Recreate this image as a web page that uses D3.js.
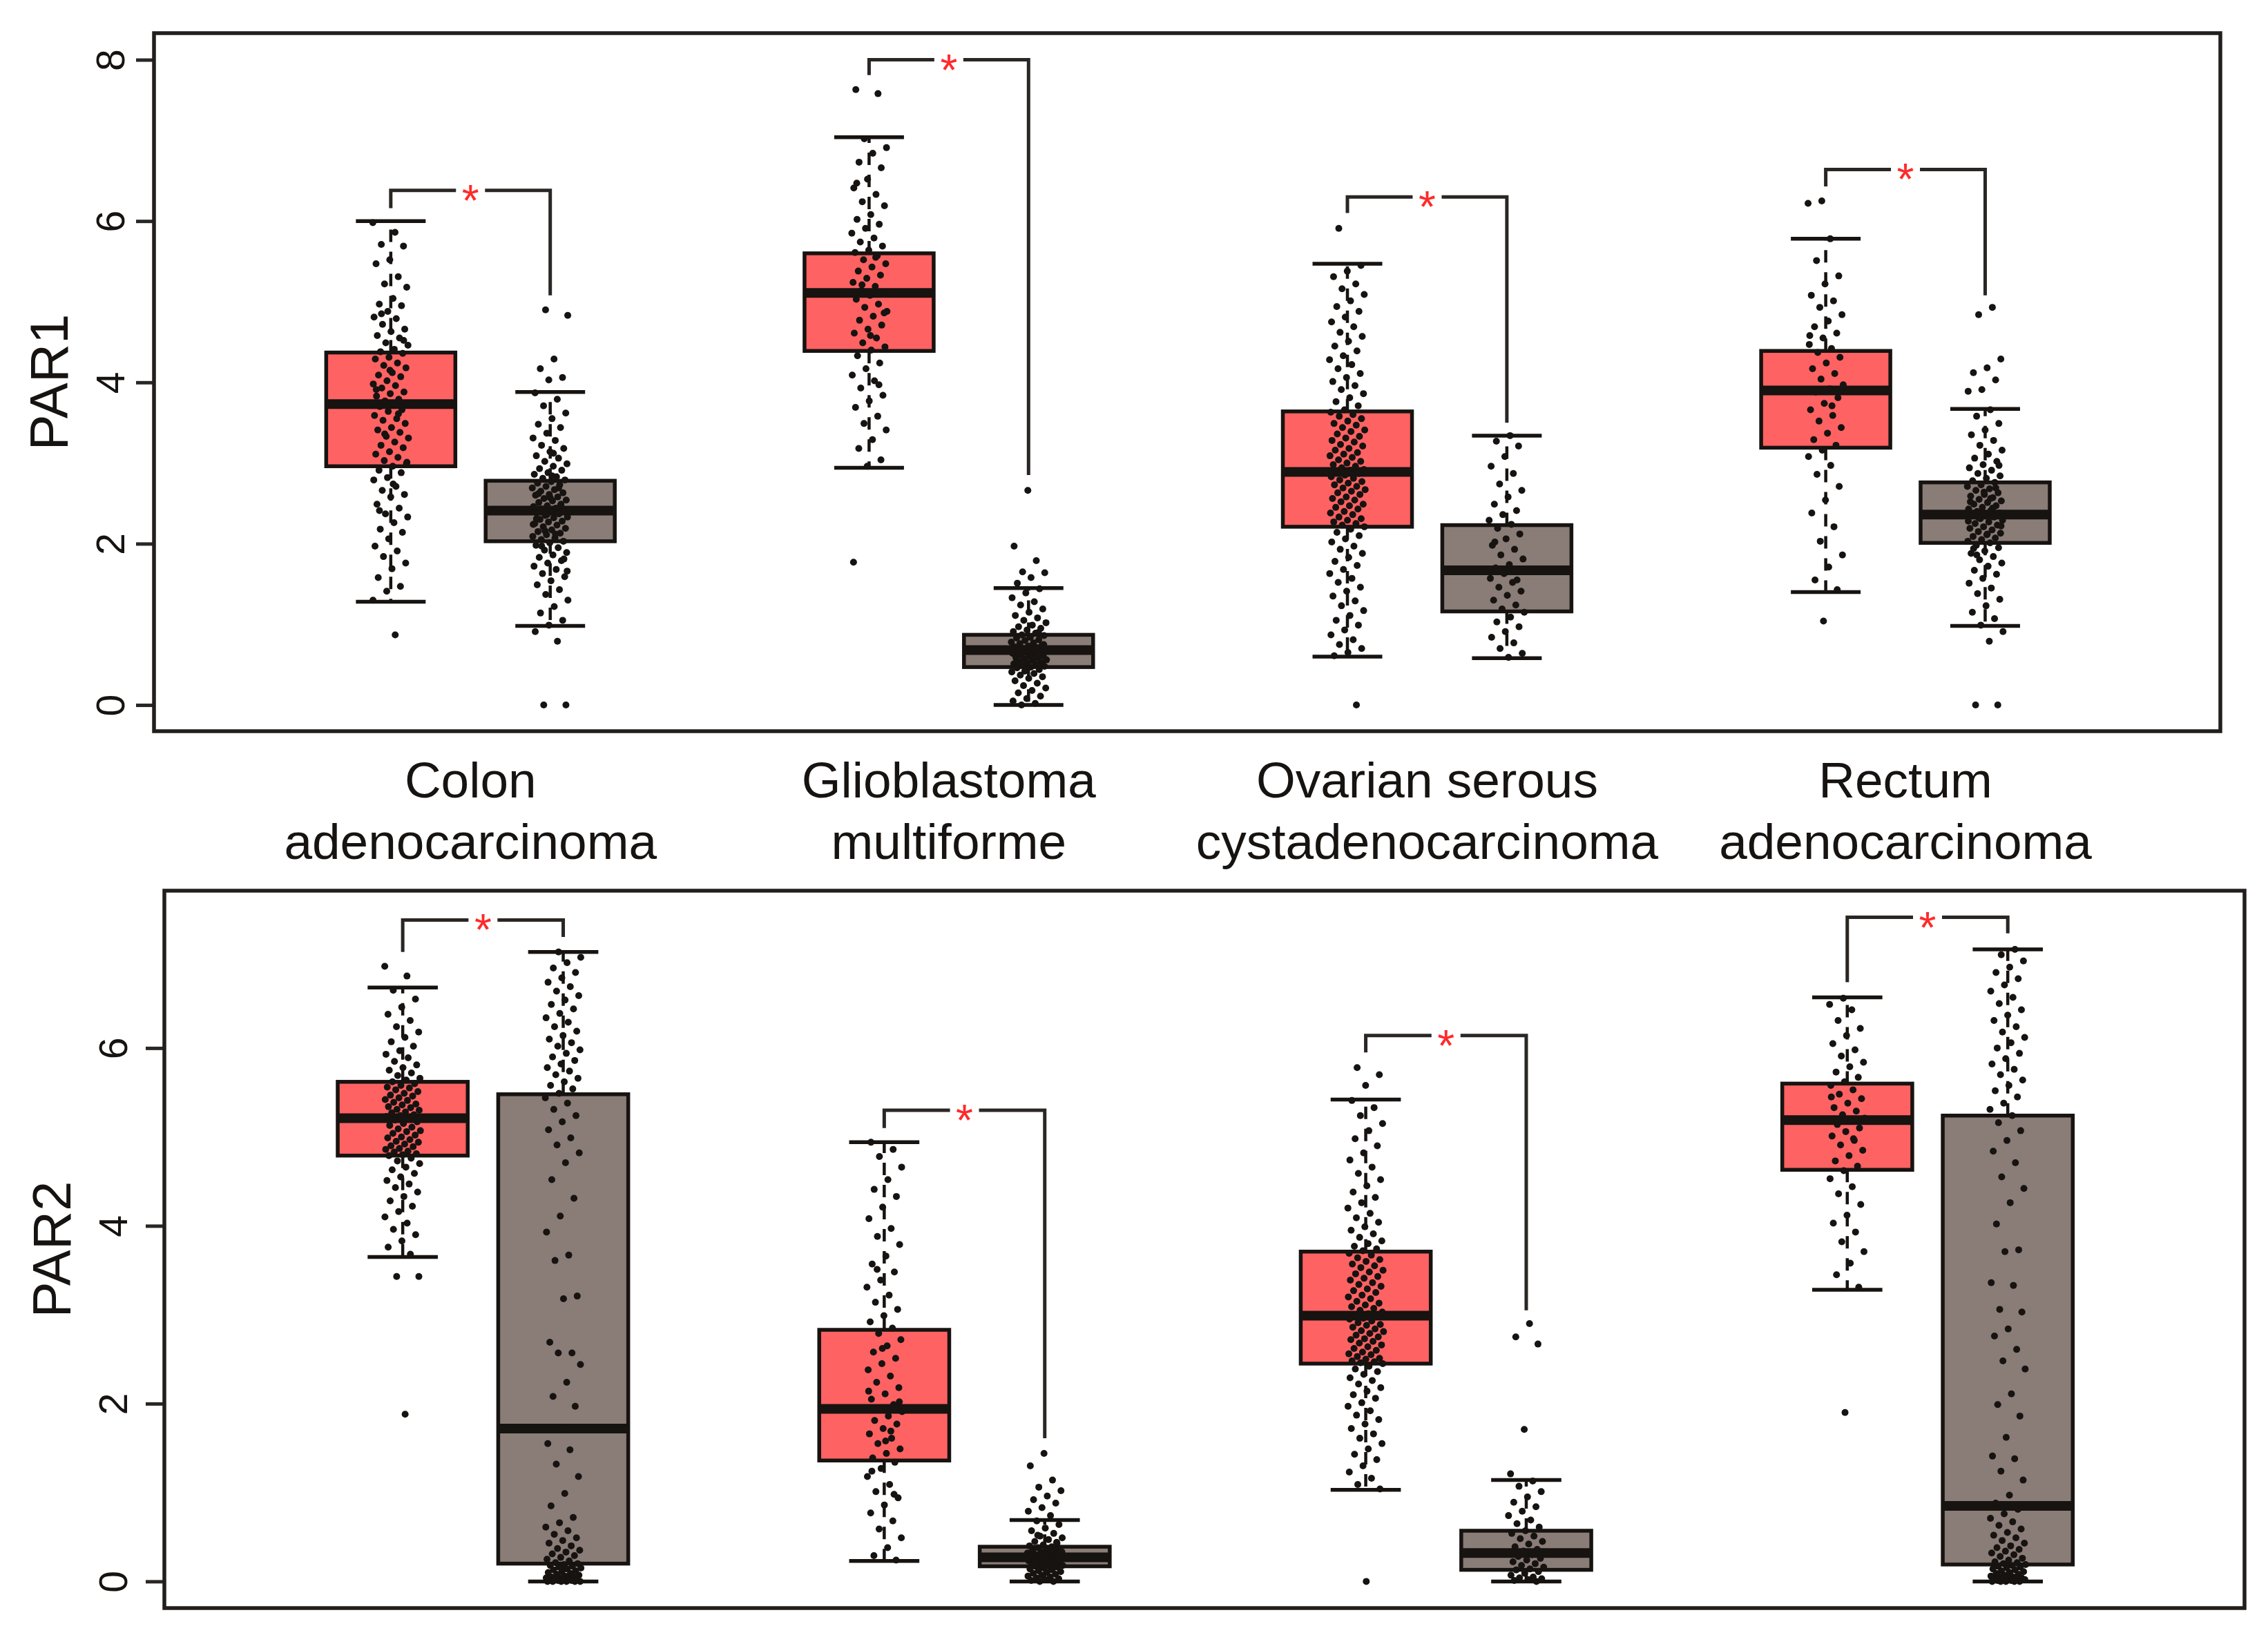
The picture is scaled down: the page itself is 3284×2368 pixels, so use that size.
<!DOCTYPE html>
<html>
<head>
<meta charset="utf-8">
<script src="https://cdn.jsdelivr.net/npm/d3@7"></script>
<style>
  body { margin: 0; background: #fff; }
  svg { display: block; }
</style>
</head>
<body>
<script>
// ---- data ----
const cancers = [
  ["Colon", "adenocarcinoma"],
  ["Glioblastoma", "multiforme"],
  ["Ovarian serous", "cystadenocarcinoma"],
  ["Rectum", "adenocarcinoma"]
];
const par1Ticks = [0, 2, 4, 6, 8];
const par2Ticks = [0, 2, 4, 6];

// box stats per cancer: [lower whisker, q1, median, q3, upper whisker]
const par1Tumor = [[1.28, 2.96, 3.73, 4.37, 6.00], [2.94, 4.39, 5.11, 5.60, 7.04], [0.60, 2.21, 2.89, 3.64, 5.47], [1.40, 3.19, 3.90, 4.39, 5.78]];
const par1Normal = [[0.98, 2.03, 2.41, 2.78, 3.88], [0.00, 0.47, 0.68, 0.87, 1.45], [0.58, 1.16, 1.67, 2.23, 3.34], [0.98, 2.01, 2.36, 2.76, 3.67]];
const par2Tumor = [[3.65, 4.79, 5.21, 5.62, 6.68], [0.23, 1.36, 1.94, 2.83, 4.94], [1.03, 2.45, 2.99, 3.71, 5.42], [3.28, 4.63, 5.19, 5.60, 6.57]];
const par2Normal = [[0.00, 0.20, 1.72, 5.48, 7.08], [0.00, 0.17, 0.27, 0.39, 0.69], [0.00, 0.13, 0.32, 0.57, 1.14], [0.00, 0.19, 0.85, 5.24, 7.11]];

// significance brackets: [bar level, left leg end, right leg end]
const par1Brackets = [[6.38, 6.16, 5.08], [8.00, 7.81, 2.85], [6.30, 6.10, 3.50], [6.64, 6.43, 5.08]];
const par2Brackets = [[7.44, 7.08, 7.25], [5.30, 5.10, 1.61], [6.14, 5.95, 3.05], [7.47, 6.74, 7.29]];

// sample points (expression values)
const par1ColonT = [5.98, 5.86, 5.71, 5.69, 5.52, 5.47, 5.31, 5.22, 5.18, 5.04, 4.97, 4.95, 4.88, 4.81, 4.79, 4.72, 4.66, 4.63, 4.58, 4.55, 4.49, 4.46, 4.41, 4.38, 4.36, 4.31, 4.29, 4.24, 4.21, 4.18, 4.12, 4.09, 4.07, 4.02, 3.98, 3.96, 3.93, 3.88, 3.86, 3.83, 3.79, 3.77, 3.74, 3.72, 3.70, 3.66, 3.64, 3.59, 3.55, 3.53, 3.49, 3.44, 3.41, 3.38, 3.33, 3.31, 3.26, 3.22, 3.19, 3.14, 3.11, 3.07, 3.03, 2.99, 2.96, 2.91, 2.88, 2.82, 2.79, 2.71, 2.66, 2.61, 2.58, 2.49, 2.44, 2.37, 2.33, 2.26, 2.18, 2.14, 2.06, 1.97, 1.91, 1.84, 1.76, 1.69, 1.58, 1.47, 1.41, 1.30, 0.87, 4.85, 4.52, 4.15, 3.91, 3.61, 3.36, 3.01, 2.74, 2.41];
const par1ColonN = [4.90, 4.83, 4.29, 4.17, 4.06, 4.03, 3.87, 3.79, 3.71, 3.62, 3.55, 3.48, 3.44, 3.37, 3.31, 3.28, 3.22, 3.18, 3.14, 3.09, 3.06, 3.02, 2.99, 2.96, 2.93, 2.91, 2.88, 2.86, 2.83, 2.81, 2.79, 2.77, 2.75, 2.73, 2.71, 2.69, 2.67, 2.65, 2.63, 2.61, 2.60, 2.58, 2.56, 2.54, 2.53, 2.51, 2.49, 2.47, 2.46, 2.44, 2.43, 2.41, 2.40, 2.38, 2.37, 2.35, 2.33, 2.32, 2.30, 2.28, 2.27, 2.25, 2.23, 2.21, 2.19, 2.17, 2.15, 2.13, 2.11, 2.09, 2.07, 2.05, 2.03, 2.01, 1.98, 1.95, 1.92, 1.89, 1.86, 1.83, 1.79, 1.76, 1.72, 1.68, 1.63, 1.59, 1.54, 1.49, 1.43, 1.37, 1.30, 1.22, 1.14, 1.05, 0.99, 0.91, 0.79, 0.00, 0.00, 2.84, 2.62, 2.48, 2.36, 2.24, 2.12, 1.97, 1.81, 2.57, 2.31, 2.69, 2.16, 1.66, 3.12];
const par1GbmT = [7.63, 7.58, 7.02, 6.91, 6.84, 6.73, 6.66, 6.52, 6.41, 6.33, 6.24, 6.19, 6.08, 6.02, 5.96, 5.91, 5.85, 5.79, 5.74, 5.69, 5.64, 5.61, 5.57, 5.52, 5.47, 5.43, 5.38, 5.33, 5.29, 5.24, 5.19, 5.14, 5.12, 5.08, 5.03, 4.97, 4.93, 4.88, 4.82, 4.77, 4.71, 4.66, 4.61, 4.55, 4.49, 4.44, 4.40, 4.33, 4.24, 4.17, 4.09, 4.02, 3.93, 3.84, 3.77, 3.69, 3.58, 3.49, 3.41, 3.29, 3.18, 3.04, 2.96, 1.77, 5.55, 5.21, 4.86, 4.58, 6.47, 3.97];
const par1GbmN = [2.66, 1.97, 1.79, 1.65, 1.64, 1.58, 1.51, 1.44, 1.39, 1.33, 1.28, 1.24, 1.19, 1.15, 1.11, 1.08, 1.05, 1.02, 0.99, 0.97, 0.95, 0.93, 0.91, 0.89, 0.87, 0.86, 0.84, 0.83, 0.81, 0.80, 0.78, 0.77, 0.76, 0.74, 0.73, 0.72, 0.71, 0.70, 0.69, 0.68, 0.67, 0.66, 0.65, 0.64, 0.63, 0.62, 0.61, 0.60, 0.59, 0.58, 0.57, 0.56, 0.55, 0.54, 0.53, 0.52, 0.51, 0.50, 0.49, 0.48, 0.47, 0.46, 0.44, 0.43, 0.41, 0.39, 0.37, 0.35, 0.33, 0.30, 0.27, 0.24, 0.21, 0.18, 0.15, 0.11, 0.08, 0.05, 0.02, 0.00, 0.75, 0.62, 0.53, 0.90, 0.42];
const par1OvT = [5.91, 5.45, 5.38, 5.31, 5.22, 5.16, 5.09, 5.01, 4.94, 4.88, 4.81, 4.75, 4.69, 4.62, 4.57, 4.51, 4.45, 4.39, 4.33, 4.28, 4.22, 4.17, 4.11, 4.06, 4.01, 3.96, 3.91, 3.86, 3.81, 3.76, 3.71, 3.66,
  3.63, 3.60, 3.58, 3.55, 3.52, 3.49, 3.47, 3.44, 3.41, 3.39, 3.36, 3.33, 3.31, 3.28, 3.26, 3.23, 3.21, 3.18, 3.16, 3.13, 3.11, 3.09, 3.07, 3.04, 3.02, 3.00, 2.98, 2.96, 2.94, 2.92, 2.91, 2.89,
  2.87, 2.85, 2.83, 2.81, 2.79, 2.77, 2.75, 2.73, 2.71, 2.69, 2.67, 2.65, 2.63, 2.61, 2.58, 2.56, 2.54, 2.52, 2.49, 2.47, 2.45, 2.43, 2.40, 2.38, 2.36, 2.33, 2.31, 2.29, 2.27, 2.25, 2.23, 2.21,
  2.18, 2.14, 2.10, 2.06, 2.02, 1.97, 1.93, 1.88, 1.83, 1.78, 1.73, 1.68, 1.63, 1.57, 1.52, 1.46, 1.41, 1.35, 1.29, 1.23, 1.17, 1.11, 1.05, 0.99, 0.93, 0.87, 0.81, 0.75, 0.70, 0.65, 0.61, 0.00];
const par1OvN = [3.34, 3.27, 3.21, 3.08, 2.96, 2.87, 2.74, 2.66, 2.58, 2.49, 2.41, 2.36, 2.29, 2.24, 2.19, 2.12, 2.06, 1.98, 1.93, 1.86, 1.81, 1.74, 1.70, 1.67, 1.63, 1.57, 1.52, 1.46, 1.41, 1.36, 1.30, 1.24, 1.19, 1.15, 1.09, 1.03, 0.97, 0.91, 0.84, 0.77, 0.70, 0.64, 0.59, 2.02, 1.55];
const par1RecT = [6.25, 6.22, 5.78, 5.51, 5.32, 5.22, 5.08, 5.01, 4.93, 4.84, 4.76, 4.69, 4.61, 4.55, 4.47, 4.42, 4.37, 4.31, 4.24, 4.17, 4.11, 4.04, 3.97, 3.92, 3.88, 3.81, 3.74, 3.66, 3.59, 3.52, 3.44, 3.37, 3.29, 3.22, 3.16, 3.08, 2.97, 2.86, 2.71, 2.54, 2.38, 2.21, 2.03, 1.86, 1.71, 1.55, 1.43, 1.04, 4.58, 3.71];
const par1RecN = [4.93, 4.84, 4.29, 4.18, 4.12, 4.03, 3.91, 3.89, 3.66, 3.58, 3.49, 3.41, 3.35, 3.28, 3.22, 3.16, 3.11, 3.06, 3.02, 2.98, 2.94, 2.91, 2.87, 2.84, 2.81, 2.78, 2.76, 2.73, 2.71, 2.68, 2.66, 2.63, 2.61, 2.59, 2.57, 2.55, 2.53, 2.51, 2.49, 2.47, 2.45, 2.43, 2.41, 2.40, 2.38, 2.36, 2.35, 2.33, 2.31, 2.29, 2.27, 2.25, 2.23, 2.21, 2.19, 2.17, 2.15, 2.13, 2.11, 2.09, 2.07, 2.05, 2.03, 2.01, 1.98, 1.95, 1.91, 1.88, 1.84, 1.80, 1.76, 1.72, 1.67, 1.62, 1.57, 1.51, 1.45, 1.38, 1.31, 1.23, 1.15, 1.07, 0.99, 0.91, 0.79, 0.00, 0.00, 2.64, 2.52, 2.44, 2.32, 2.22, 2.12, 1.94, 2.69, 2.37, 2.28, 2.56, 1.86, 2.97];

const par2ColonT = [6.92, 6.81, 6.65, 6.55, 6.46, 6.38, 6.31, 6.24, 6.18, 6.12, 6.07, 6.02, 5.97, 5.93, 5.89, 5.85, 5.81, 5.78, 5.75, 5.72, 5.69, 5.66, 5.64, 5.62,
  5.60, 5.58, 5.56, 5.55, 5.53, 5.51, 5.49, 5.47, 5.46, 5.44, 5.42, 5.41, 5.39, 5.37, 5.36, 5.34, 5.33, 5.31, 5.30, 5.28, 5.27, 5.25, 5.24, 5.23, 5.21,
  5.19, 5.17, 5.15, 5.13, 5.11, 5.09, 5.07, 5.06, 5.04, 5.02, 5.00, 4.99, 4.97, 4.95, 4.94, 4.92, 4.90, 4.89, 4.87, 4.86, 4.84, 4.83, 4.81, 4.80, 4.79,
  4.76, 4.73, 4.70, 4.66, 4.63, 4.59, 4.55, 4.51, 4.47, 4.43, 4.38, 4.33, 4.28, 4.22, 4.16, 4.10, 4.03, 3.96, 3.90, 3.83, 3.76, 3.68, 3.43, 3.43, 1.88];
const par2ColonN = [7.08, 7.02, 6.96, 6.90, 6.85, 6.79, 6.74, 6.69, 6.64, 6.59, 6.54, 6.49, 6.44, 6.39, 6.34, 6.29, 6.24, 6.19, 6.14, 6.10, 6.06, 6.02, 5.98, 5.94, 5.90, 5.86, 5.82, 5.78, 5.74, 5.70, 5.66, 5.62, 5.58, 5.54, 5.49, 5.44, 5.38, 5.31, 5.24, 5.17, 5.08, 4.99, 4.91, 4.82, 4.71,
  4.52, 4.31, 4.11, 3.93, 3.67, 3.61, 3.21, 3.18, 2.69, 2.57, 2.57, 2.44, 2.24, 2.08, 1.97, 1.72, 1.55, 1.48, 1.32, 1.18, 0.99, 0.85,
  0.72, 0.66, 0.61, 0.57, 0.53, 0.49, 0.46, 0.43, 0.40, 0.37, 0.35, 0.33, 0.31, 0.29, 0.27, 0.25, 0.23, 0.21, 0.20, 0.19, 0.18, 0.17, 0.16, 0.15, 0.14, 0.13, 0.12, 0.11, 0.10, 0.09, 0.08, 0.07, 0.06, 0.05, 0.05, 0.04, 0.04, 0.03, 0.03, 0.02, 0.02, 0.01, 0.01, 0.01, 0.00, 0.00, 0.00, 0.00, 0.00, 0.00];
const par2GbmT = [4.94, 4.86, 4.78, 4.66, 4.52, 4.41, 4.33, 4.21, 4.08, 3.97, 3.88, 3.79, 3.66, 3.57, 3.48, 3.39, 3.31, 3.22, 3.14, 3.06, 2.99, 2.92, 2.85, 2.79, 2.72, 2.65, 2.58, 2.51, 2.45, 2.38, 2.31, 2.24, 2.18, 2.11, 2.05, 1.99, 1.95, 1.91, 1.86, 1.81, 1.77, 1.72, 1.66, 1.61, 1.55, 1.49, 1.44, 1.39, 1.34, 1.27, 1.18, 1.09, 1.01, 0.94, 0.86, 0.77, 0.68, 0.59, 0.49, 0.38, 0.29, 0.24, 2.62, 2.14, 1.69, 3.51, 2.02, 1.58, 1.24, 0.98];
const par2GbmN = [1.44, 1.30, 1.14, 1.06, 1.02, 0.96, 0.92, 0.88, 0.83, 0.79, 0.74, 0.68, 0.64, 0.60, 0.57, 0.54, 0.51, 0.49, 0.47, 0.45, 0.43, 0.41, 0.40, 0.39, 0.38, 0.37, 0.36, 0.35, 0.34, 0.33, 0.32, 0.31, 0.30, 0.30, 0.29, 0.28, 0.28, 0.27, 0.27, 0.26, 0.25, 0.25, 0.24, 0.23, 0.23, 0.22, 0.21, 0.21, 0.20, 0.19, 0.19, 0.18, 0.17, 0.17, 0.16, 0.15, 0.14, 0.13, 0.12, 0.11, 0.10, 0.09, 0.08, 0.07, 0.06, 0.05, 0.04, 0.03, 0.02, 0.01, 0.00, 0.00, 0.33, 0.26, 0.22, 0.44, 0.18, 0.29, 0.36, 0.52];
const par2OvT = [5.78, 5.70, 5.58, 5.41, 5.33, 5.24, 5.15, 5.07, 4.98, 4.90, 4.82, 4.74, 4.66, 4.59, 4.52, 4.45, 4.38, 4.32, 4.26, 4.20, 4.14, 4.09, 4.04, 3.99, 3.95, 3.91, 3.87, 3.83, 3.80, 3.77, 3.74, 3.72,
  3.69, 3.67, 3.64, 3.62, 3.60, 3.57, 3.55, 3.53, 3.50, 3.48, 3.46, 3.43, 3.41, 3.39, 3.36, 3.34, 3.32, 3.29, 3.27, 3.25, 3.22, 3.20, 3.18, 3.15, 3.13, 3.11, 3.09, 3.07, 3.05, 3.03, 3.01, 3.00,
  2.98, 2.96, 2.95, 2.93, 2.91, 2.89, 2.88, 2.86, 2.84, 2.82, 2.81, 2.79, 2.77, 2.75, 2.73, 2.72, 2.70, 2.68, 2.66, 2.64, 2.62, 2.60, 2.58, 2.56, 2.55, 2.53, 2.51, 2.50, 2.48, 2.47, 2.46, 2.45,
  2.42, 2.39, 2.36, 2.33, 2.29, 2.26, 2.22, 2.18, 2.14, 2.10, 2.06, 2.01, 1.97, 1.92, 1.87, 1.82, 1.77, 1.72, 1.66, 1.61, 1.55, 1.49, 1.43, 1.37, 1.30, 1.23, 1.16, 1.09, 1.04, 0.00];
const par2OvN = [2.90, 2.75, 2.67, 1.71, 1.21, 1.13, 1.07, 1.01, 0.95, 0.89, 0.84, 0.79, 0.74, 0.69, 0.65, 0.61, 0.57, 0.54, 0.51, 0.48, 0.45, 0.42, 0.39, 0.36, 0.34, 0.32, 0.30, 0.28, 0.26, 0.24, 0.22, 0.20, 0.18, 0.16, 0.14, 0.13, 0.11, 0.09, 0.07, 0.05, 0.04, 0.03, 0.02, 0.01, 0.00];
const par2RecT = [6.56, 6.49, 6.43, 6.31, 6.22, 6.14, 6.05, 5.98, 5.91, 5.84, 5.79, 5.73, 5.67, 5.62, 5.58, 5.53, 5.48, 5.43, 5.38, 5.33, 5.29, 5.25, 5.21, 5.18, 5.14, 5.10, 5.06, 5.01, 4.96, 4.91, 4.85, 4.79, 4.73, 4.67, 4.62, 4.53, 4.44, 4.36, 4.24, 4.12, 4.03, 3.93, 3.82, 3.71, 3.58, 3.45, 3.31, 1.90, 5.45, 4.98];
const par2RecN = [7.11, 7.05, 6.98, 6.91, 6.85, 6.78, 6.71, 6.64, 6.57, 6.50, 6.43, 6.37, 6.31, 6.24, 6.18, 6.12, 6.06, 6.00, 5.94, 5.88, 5.82, 5.76, 5.70, 5.64, 5.58, 5.52, 5.45, 5.38, 5.31, 5.24, 5.16, 5.07, 4.96, 4.84, 4.71,
  4.55, 4.42, 4.26, 4.02, 3.73, 3.71, 3.36, 3.33, 3.06, 3.03, 2.84, 2.76, 2.61, 2.48, 2.39, 2.11, 1.99, 1.86, 1.62, 1.41, 1.38, 1.24, 1.14, 0.97, 0.88,
  0.81, 0.76, 0.71, 0.67, 0.63, 0.59, 0.55, 0.52, 0.49, 0.46, 0.43, 0.40, 0.38, 0.36, 0.34, 0.32, 0.30, 0.28, 0.26, 0.24, 0.22, 0.21, 0.20, 0.19, 0.18, 0.17, 0.16, 0.15, 0.14, 0.13, 0.12, 0.11, 0.10, 0.09, 0.08, 0.07, 0.06, 0.05, 0.05, 0.04, 0.04, 0.03, 0.03, 0.02, 0.02, 0.01, 0.01, 0.00, 0.00, 0.00, 0.00, 0.00];

const par1Points = [[par1ColonT, par1ColonN], [par1GbmT, par1GbmN], [par1OvT, par1OvN], [par1RecT, par1RecN]];
const par2Points = [[par2ColonT, par2ColonN], [par2GbmT, par2GbmN], [par2OvT, par2OvN], [par2RecT, par2RecN]];

// ---- layout / style ----
const W = 3284, H = 2368;
const tumorFill = "#ff6262", normalFill = "#8a7c76";
const ink = "#161311", starRed = "#ff2a2a";
const xDomain = [-0.485, 12.475];
const boxUnits = 0.81;

const svg = d3.select("body").append("svg")
  .attr("width", W).attr("height", H)
  .attr("viewBox", `0 0 ${W} ${H}`);
svg.append("rect").attr("width", W).attr("height", H).attr("fill", "#fff");

function drawPanel(cfg) {
  const g = svg.append("g");
  const x = d3.scaleLinear().domain(xDomain).range([cfg.left, cfg.right]);
  const y = d3.scaleLinear().domain(cfg.yDomain).range([cfg.bottom, cfg.top]);
  const bw = x(boxUnits) - x(0);
  const jitterPx = 26;

  // y axis
  const ax = g.append("g")
    .attr("transform", `translate(${cfg.left},0)`)
    .call(d3.axisLeft(y).tickValues(cfg.ticks).tickSize(cfg.tickLen).tickFormat(d3.format("d")));
  ax.select(".domain").remove();
  ax.selectAll(".tick line").attr("stroke", "#2a2624").attr("stroke-width", 5);
  ax.selectAll(".tick text")
    .attr("x", null).attr("dy", null)
    .attr("transform", `translate(${-cfg.labelOff},0) rotate(-90)`)
    .attr("text-anchor", "middle")
    .attr("fill", ink)
    .style("font-family", "'Liberation Sans', Arial, sans-serif")
    .style("font-size", "57px");

  g.append("text")
    .attr("transform", `translate(${cfg.titleX},${(cfg.top + cfg.bottom) / 2}) rotate(-90)`)
    .attr("text-anchor", "middle")
    .attr("fill", ink)
    .style("font-family", "'Liberation Sans', Arial, sans-serif")
    .style("font-size", "78px")
    .text(cfg.title);

  const drawBox = (pos, s, fill, pts, seed) => {
    const cx = x(pos);
    const [lo, q1, med, q3, hi] = s;
    const bg = g.append("g");
    bg.append("line").attr("x1", cx).attr("x2", cx).attr("y1", y(q3)).attr("y2", y(hi))
      .attr("stroke", ink).attr("stroke-width", 4.5).attr("stroke-dasharray", "18,14");
    bg.append("line").attr("x1", cx).attr("x2", cx).attr("y1", y(q1)).attr("y2", y(lo))
      .attr("stroke", ink).attr("stroke-width", 4.5).attr("stroke-dasharray", "18,14");
    [lo, hi].forEach(v => {
      bg.append("line").attr("x1", cx - bw * 0.27).attr("x2", cx + bw * 0.27)
        .attr("y1", y(v)).attr("y2", y(v))
        .attr("stroke", ink).attr("stroke-width", 5.5);
    });
    bg.append("rect")
      .attr("x", cx - bw / 2).attr("width", bw)
      .attr("y", y(q3)).attr("height", y(q1) - y(q3))
      .attr("fill", fill).attr("stroke", ink).attr("stroke-width", 5.5);
    bg.append("line").attr("x1", cx - bw / 2).attr("x2", cx + bw / 2)
      .attr("y1", y(med)).attr("y2", y(med))
      .attr("stroke", ink).attr("stroke-width", 14);
    bg.selectAll("circle").data(pts).join("circle")
      .attr("cx", (d, i) => cx + (((i * 0.6180339887 + seed) % 1) - 0.5) * 2 * jitterPx)
      .attr("cy", d => y(d))
      .attr("r", 5)
      .attr("fill", ink);
  };

  cancers.forEach((c, i) => {
    const tPos = 3 * i + 1, nPos = 3 * i + 2;
    drawBox(tPos, cfg.tumor[i], tumorFill, cfg.points[i][0], 0.13 * i);
    drawBox(nPos, cfg.normal[i], normalFill, cfg.points[i][1], 0.37 + 0.11 * i);

    const [bar, lEnd, rEnd] = cfg.brackets[i];
    const xl = x(tPos), xr = x(nPos), xm = (xl + xr) / 2, gap = 21;
    const by = y(bar);
    const bk = g.append("g").attr("fill", "none").attr("stroke", "#2a2624").attr("stroke-width", 5);
    bk.append("path").attr("d", `M${xl},${y(lEnd)}V${by}H${xm - gap}`);
    bk.append("path").attr("d", `M${xm + gap},${by}H${xr}V${y(rEnd)}`);
    g.append("text")
      .attr("x", xm).attr("y", by + 37)
      .attr("text-anchor", "middle")
      .attr("fill", starRed)
      .style("font-family", "'Liberation Sans', Arial, sans-serif")
      .style("font-size", "64px")
      .text("*");
  });

  // frame
  g.append("rect")
    .attr("x", cfg.left).attr("y", cfg.top)
    .attr("width", cfg.right - cfg.left).attr("height", cfg.bottom - cfg.top)
    .attr("fill", "none").attr("stroke", "#221e1c").attr("stroke-width", 5.5);

  return x;
}

const xTop = drawPanel({
  left: 223, right: 3215, top: 48, bottom: 1059,
  yDomain: [-0.325, 8.33], ticks: par1Ticks, tickLen: 26, labelOff: 43, titleX: 98,
  title: "PAR1", tumor: par1Tumor, normal: par1Normal, brackets: par1Brackets, points: par1Points
});

drawPanel({
  left: 238, right: 3250, top: 1290, bottom: 2329,
  yDomain: [-0.30, 7.77], ticks: par2Ticks, tickLen: 27, labelOff: 54, titleX: 102,
  title: "PAR2", tumor: par2Tumor, normal: par2Normal, brackets: par2Brackets, points: par2Points
});

// category labels between the panels
const lab = svg.append("g")
  .attr("fill", ink)
  .style("font-family", "'Liberation Sans', Arial, sans-serif")
  .style("font-size", "73px")
  .attr("text-anchor", "middle");
cancers.forEach((c, i) => {
  const cx = xTop(3 * i + 1.5);
  lab.append("text").attr("x", cx).attr("y", 1155).text(c[0]);
  lab.append("text").attr("x", cx).attr("y", 1244).text(c[1]);
});
</script>
</body>
</html>
